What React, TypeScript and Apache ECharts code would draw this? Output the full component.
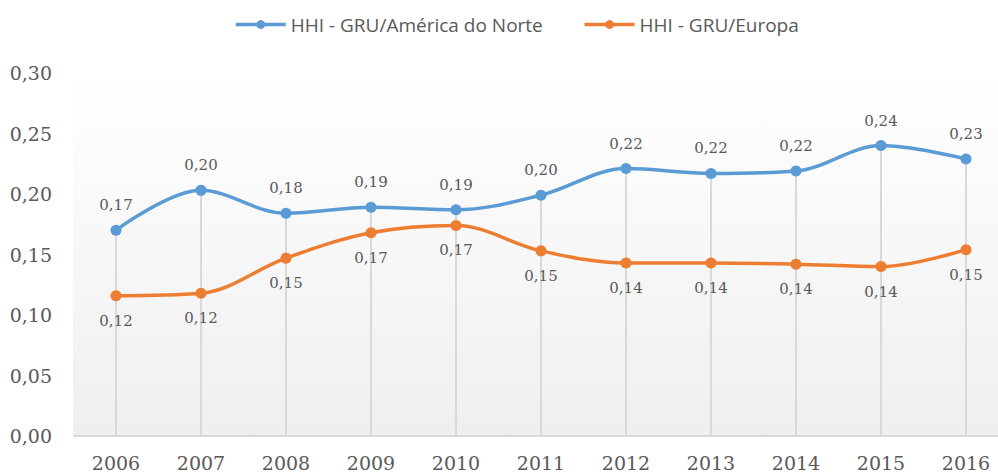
import React, { useEffect, useRef } from "react";
import * as echarts from "echarts";

const years = ["2006", "2007", "2008", "2009", "2010", "2011", "2012", "2013", "2014", "2015", "2016"];
const americaNorte = [0.170, 0.203, 0.184, 0.189, 0.187, 0.199, 0.221, 0.217, 0.219, 0.240, 0.229];
const europa = [0.116, 0.118, 0.147, 0.168, 0.174, 0.153, 0.143, 0.143, 0.142, 0.140, 0.154];
const yTicks = { min: 0, max: 0.3, interval: 0.05 };

const fmt = (v: number) => v.toFixed(2).replace(".", ",");

export default function App() {
  const ref = useRef<HTMLDivElement>(null);
  useEffect(() => {
    if (!ref.current) return;
    const chart = echarts.init(ref.current, undefined, { renderer: "svg" });
    const drop = years.map((_, i) => Math.max(americaNorte[i], europa[i]));
    const serif = "DejaVu Serif";
    chart.setOption({
      animation: false,
      graphic: [
        {
          type: "rect",
          left: 73,
          top: 73,
          shape: { width: 925, height: 363 },
          silent: true,
          z: -10,
          style: {
            fill: new echarts.graphic.LinearGradient(0, 0, 0, 1, [
              { offset: 0, color: "#ffffff" },
              { offset: 1, color: "#efefef" },
            ]),
          },
        },
      ],
      legend: {
        data: ["HHI - GRU/América do Norte", "HHI - GRU/Europa"],
        top: 10,
        left: 229,
        itemWidth: 50,
        itemHeight: 11,
        itemGap: 40,
        lineStyle: { width: 3.5 },
        textStyle: { fontFamily: "Open Sans", fontSize: 19, color: "#595959" },
      },
      grid: {
        left: 116,
        right: 32,
        top: 73,
        bottom: 37,
      },
      xAxis: {
        type: "category",
        data: years,
        boundaryGap: false,
        axisLine: { show: false },
        axisTick: { show: false },
        axisLabel: { fontFamily: serif, fontSize: 19, color: "#595959", margin: 17 },
        splitLine: { show: false },
      },
      yAxis: {
        type: "value",
        min: yTicks.min,
        max: yTicks.max,
        interval: yTicks.interval,
        axisLine: { show: false },
        axisTick: { show: false },
        splitLine: { show: false },
        axisLabel: { fontFamily: serif, fontSize: 19, color: "#595959", margin: 64, formatter: (v: number) => fmt(v) },
      },
      series: [
        {
          name: "drop",
          type: "bar",
          data: drop,
          barWidth: 2,
          silent: true,
          itemStyle: { color: "#d9d9d9" },
          z: 1,
        },
        {
          name: "HHI - GRU/América do Norte",
          type: "line",
          data: americaNorte,
          smooth: 0.35,
          symbol: "circle",
          symbolSize: 11,
          lineStyle: { width: 3.5, color: "#5B9BD5" },
          itemStyle: { color: "#5B9BD5" },
          label: {
            show: true,
            position: "top",
            distance: 12,
            fontFamily: serif,
            fontSize: 15,
            color: "#595959",
            formatter: (p: any) => fmt(p.value),
          },
          z: 3,
        },
        {
          name: "HHI - GRU/Europa",
          type: "line",
          data: europa,
          smooth: 0.35,
          symbol: "circle",
          symbolSize: 11,
          lineStyle: { width: 3.5, color: "#ED7D31" },
          itemStyle: { color: "#ED7D31" },
          label: {
            show: true,
            position: "bottom",
            distance: 12,
            fontFamily: serif,
            fontSize: 15,
            color: "#595959",
            formatter: (p: any) => fmt(p.value),
          },
          z: 3,
        },
      ],
    });
    return () => chart.dispose();
  }, []);
  return (
    <div style={{ position: "absolute", left: 0, top: 0, width: 998, height: 473 }}>
      <div ref={ref} style={{ width: 998, height: 473 }} />
      <div style={{ position: "absolute", left: 73, top: 435, width: 925, height: 2, background: "#d9d9d9" }} />
    </div>
  );
}
